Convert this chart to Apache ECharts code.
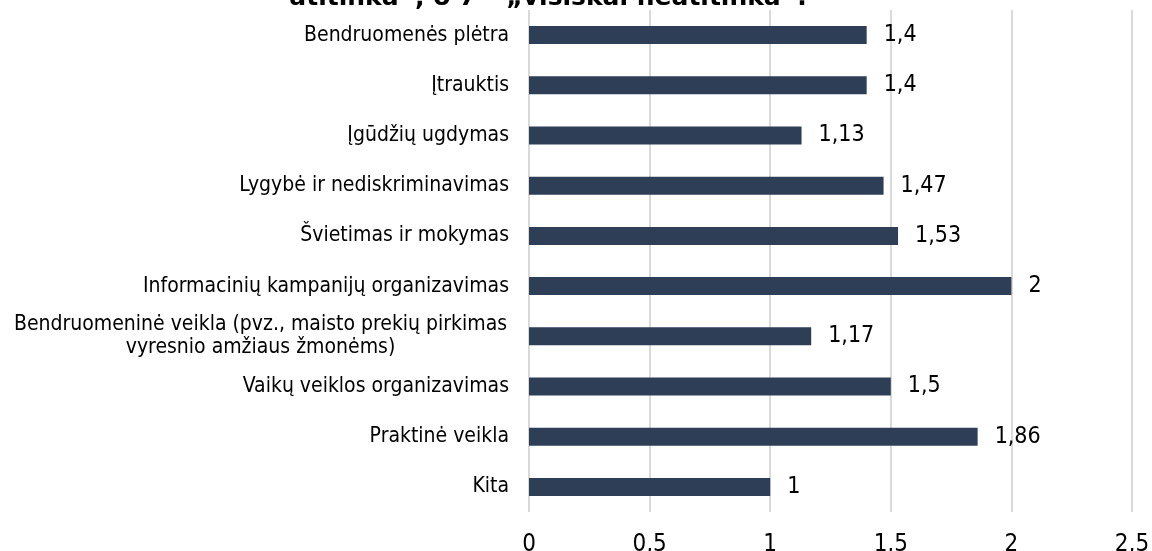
<!DOCTYPE html>
<html>
<head>
<meta charset="utf-8">
<script src="https://cdn.jsdelivr.net/npm/echarts@6/dist/echarts.min.js"></script>
<style>
  html, body { margin: 0; padding: 0; background: #fff; }
  #chart { width: 1152px; height: 551px; }
</style>
</head>
<body>
<div id="chart"></div>
<script>
// categories top to bottom
var categories = [
    'Bendruomenės plėtra',
    'Įtrauktis',
    'Įgūdžių ugdymas',
    'Lygybė ir nediskriminavimas',
    'Švietimas ir mokymas',
    'Informacinių kampanijų organizavimas',
    'Bendruomeninė veikla (pvz., maisto prekių pirkimas\nvyresnio amžiaus žmonėms)',
    'Vaikų veiklos organizavimas',
    'Praktinė veikla',
    'Kita'
];
var values = [1.4, 1.4, 1.13, 1.47, 1.53, 2, 1.17, 1.5, 1.86, 1];
var titleText = 'atitinka“, o 7 – „visiškai neatitinka“.';

var fontFam = 'DejaVu Sans Condensed, DejaVu Sans';
function comma(v) {
    return String(v).replace('.', ',');
}

var myChart = echarts.init(document.getElementById('chart'));
var option = {
    animation: false,
    title: {
        text: titleText,
        left: 543,
        top: -19,
        textAlign: 'center',
        textStyle: {
            fontFamily: 'DejaVu Sans',
            fontSize: 25,
            fontWeight: 'bold',
            color: '#000'
        }
    },
    grid: {
        left: 529,
        right: 20,
        top: 10,
        bottom: 39,
        containLabel: false,
        outerBoundsMode: 'none'
    },
    xAxis: {
        type: 'value',
        min: 0,
        max: 2.5,
        interval: 0.5,
        axisLine: { show: false },
        axisTick: { show: false },
        splitLine: { lineStyle: { color: '#d9d9d9', width: 2 } },
        axisLabel: {
            margin: 21,
            fontFamily: fontFam,
            fontSize: 24,
            color: '#000',
            formatter: function (v) { return comma(v); }
        }
    },
    yAxis: {
        type: 'category',
        inverse: true,
        data: categories,
        axisLine: { show: false },
        axisTick: { show: false },
        axisLabel: {
            margin: 20,
            fontFamily: fontFam,
            fontSize: 21,
            color: '#000',
            align: 'right',
            lineHeight: 23,
            formatter: function (v) {
                if (v.indexOf('\n') < 0) return v;
                // two-line label, lines centred on each other
                return v.split('\n').map(function (s) { return '{c|' + s + '}'; }).join('\n');
            },
            rich: {
                c: {
                    width: 497,
                    align: 'center',
                    fontFamily: fontFam,
                    fontSize: 21,
                    lineHeight: 23,
                    color: '#000'
                }
            }
        }
    },
    series: [{
        type: 'bar',
        data: values,
        barWidth: 18,
        itemStyle: { color: '#2e3e56' },
        label: {
            show: true,
            position: 'right',
            distance: 17,
            fontFamily: fontFam,
            fontSize: 23,
            color: '#000',
            formatter: function (p) { return comma(p.value); }
        }
    }]
};
myChart.setOption(option);
</script>
</body>
</html>
